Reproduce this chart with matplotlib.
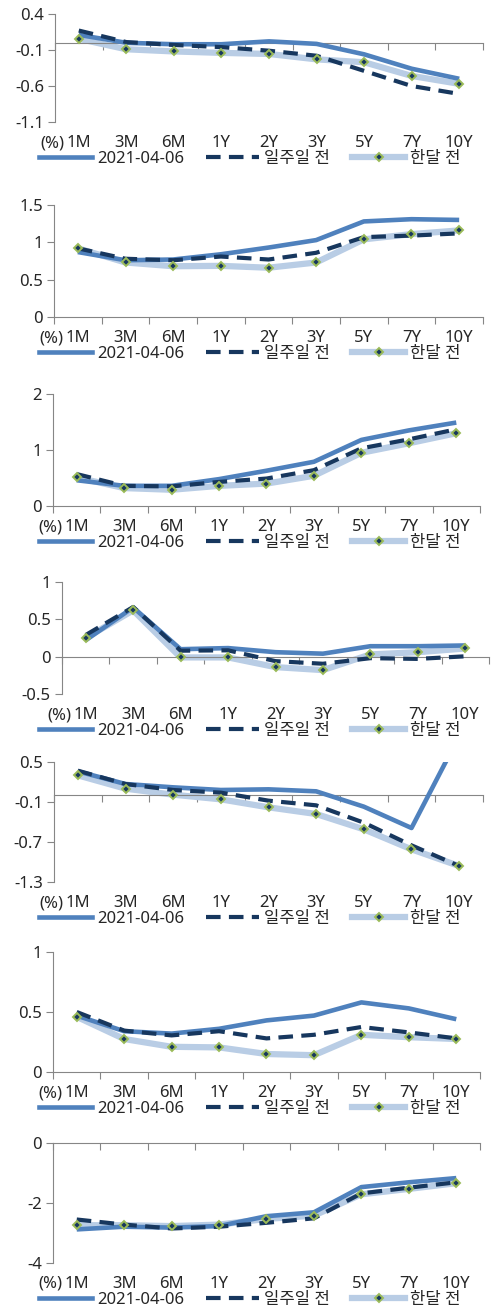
import matplotlib
matplotlib.use("Agg")
import matplotlib.pyplot as plt
import matplotlib.transforms as mtrans

plt.rcParams['font.family'] = ['Noto Sans', 'Noto Sans CJK KR', 'DejaVu Sans']
plt.rcParams['font.size'] = 12

tenors = ["1M", "3M", "6M", "1Y", "2Y", "3Y", "5Y", "7Y", "10Y"]
series_names = ["2021-04-06", "일주일 전", "한달 전"]

# panel 1
p1_now = [0.11, 0.0, -0.02, -0.02, 0.02, -0.015, -0.16, -0.36, -0.50]
p1_week = [0.17, 0.01, -0.03, -0.06, -0.11, -0.18, -0.39, -0.60, -0.71]
p1_month = [0.055, -0.09, -0.12, -0.14, -0.155, -0.23, -0.27, -0.46, -0.57]
# panel 2
p2_now = [0.87, 0.76, 0.77, 0.84, 0.93, 1.03, 1.28, 1.31, 1.30]
p2_week = [0.92, 0.78, 0.76, 0.81, 0.77, 0.86, 1.07, 1.09, 1.12]
p2_month = [0.92, 0.73, 0.68, 0.685, 0.66, 0.73, 1.04, 1.11, 1.16]
# panel 3
p3_now = [0.46, 0.36, 0.36, 0.48, 0.63, 0.79, 1.18, 1.35, 1.49]
p3_week = [0.57, 0.36, 0.35, 0.43, 0.49, 0.64, 1.03, 1.19, 1.37]
p3_month = [0.51, 0.32, 0.29, 0.36, 0.40, 0.54, 0.95, 1.12, 1.30]
# panel 4
p4_now = [0.22, 0.66, 0.10, 0.115, 0.06, 0.04, 0.14, 0.14, 0.15]
p4_week = [0.29, 0.665, 0.08, 0.085, -0.06, -0.095, -0.02, -0.03, 0.005]
p4_month = [0.25, 0.62, -0.01, -0.01, -0.14, -0.18, 0.03, 0.06, 0.11]
# panel 5
p5_now = [0.36, 0.17, 0.12, 0.08, 0.09, 0.06, -0.17, -0.49, 0.89]
p5_week = [0.37, 0.17, 0.08, 0.04, -0.08, -0.15, -0.41, -0.75, -1.06]
p5_month = [0.30, 0.10, 0.01, -0.06, -0.18, -0.28, -0.51, -0.81, -1.06]
# panel 6
p6_now = [0.47, 0.34, 0.32, 0.36, 0.43, 0.47, 0.58, 0.53, 0.44]
p6_week = [0.50, 0.345, 0.305, 0.34, 0.28, 0.31, 0.375, 0.33, 0.28]
p6_month = [0.46, 0.275, 0.21, 0.205, 0.15, 0.14, 0.31, 0.29, 0.275]
# panel 7
p7_now = [-2.88, -2.79, -2.82, -2.77, -2.44, -2.31, -1.47, -1.31, -1.17]
p7_week = [-2.55, -2.72, -2.85, -2.79, -2.66, -2.51, -1.68, -1.49, -1.31]
p7_month = [-2.74, -2.74, -2.77, -2.72, -2.53, -2.42, -1.71, -1.53, -1.34]

panels = [
    (p1_now, p1_week, p1_month, [0.4, -0.1, -0.6, -1.1]),
    (p2_now, p2_week, p2_month, [0, 0.5, 1, 1.5]),
    (p3_now, p3_week, p3_month, [0, 1, 2]),
    (p4_now, p4_week, p4_month, [-0.5, 0, 0.5, 1]),
    (p5_now, p5_week, p5_month, [0.5, -0.1, -0.7, -1.3]),
    (p6_now, p6_week, p6_month, [0, 0.5, 1]),
    (p7_now, p7_week, p7_month, [0, -2, -4]),
]

# pixel boxes (left, right, top, bottom)
boxes = [(55, 483, 14, 122), (54, 483, 205, 317), (53, 480, 394, 506),
         (62, 489, 582, 694), (54, 483, 762, 882), (53, 480, 952, 1072),
         (53, 480, 1143, 1263)]

W, H = 496, 1309
fig = plt.figure(figsize=(W / 100, H / 100), dpi=100)

blue = "#4F81BD"
navy = "#17375E"
light = "#B9CDE5"
green = "#9BBB59"
grey = "#868686"
txt = "#262626"

x = list(range(len(tenors)))

for (now, week, month, yt), (l, r, t, b) in zip(panels, boxes):
    ax = fig.add_axes([l / W, 1 - b / H, (r - l) / W, (b - t) / H])
    ax.plot(x, month, color=light, lw=4.5, zorder=2, solid_capstyle='butt')
    ax.plot(x, now, color=blue, lw=3.3, zorder=3, solid_capstyle='butt')
    ax.plot(x, week, color=navy, lw=3.0, ls=(0, (3.5, 2)), zorder=4)
    ax.plot(x, month, ls='none', marker='D', ms=4, mfc=navy, mec=green,
            mew=1.4, zorder=5)

    ax.set_xlim(-0.5, len(tenors) - 0.5)
    ax.set_ylim(min(yt), max(yt))
    ax.set_yticks(yt)
    ax.set_yticklabels([f"{v:g}" for v in yt])

    for s in ['top', 'right']:
        ax.spines[s].set_visible(False)
    ax.spines['left'].set_color(grey)
    ax.spines['bottom'].set_color(grey)
    ax.spines['bottom'].set_position(('data', 0))
    ax.set_xticks([i - 0.5 for i in range(len(tenors) + 1)])
    ax.set_xticklabels([])
    ax.tick_params(axis='x', direction='out', length=5, color=grey)
    ax.tick_params(axis='y', direction='out', length=5, color=grey,
                   labelcolor=txt, pad=3)

    trans = mtrans.blended_transform_factory(ax.transData, ax.transAxes)
    ly = -21 / (b - t)
    for i, lab in enumerate(tenors):
        ax.text(i, ly, lab, transform=trans, ha='center', va='center',
                color=txt)
    ax.text(-0.3, ly, "(%)", transform=trans, ha='right', va='center',
            color=txt)

    h1, = ax.plot([], [], color=blue, lw=3.3)
    h2, = ax.plot([], [], color=navy, lw=3.0, ls=(0, (3.5, 2)))
    h3, = ax.plot([], [], color=light, lw=4.5, marker='D', ms=4, mfc=navy,
                  mec=green, mew=1.4)
    fig.legend([h1, h2, h3], series_names, loc='center',
               bbox_to_anchor=(250 / W, 1 - (b + 37) / H), ncol=3,
               frameon=False, handlelength=3.2, handletextpad=0.3,
               columnspacing=1.3, borderaxespad=0, borderpad=0,
               labelcolor=txt)

fig.savefig("out.png", dpi=100)
